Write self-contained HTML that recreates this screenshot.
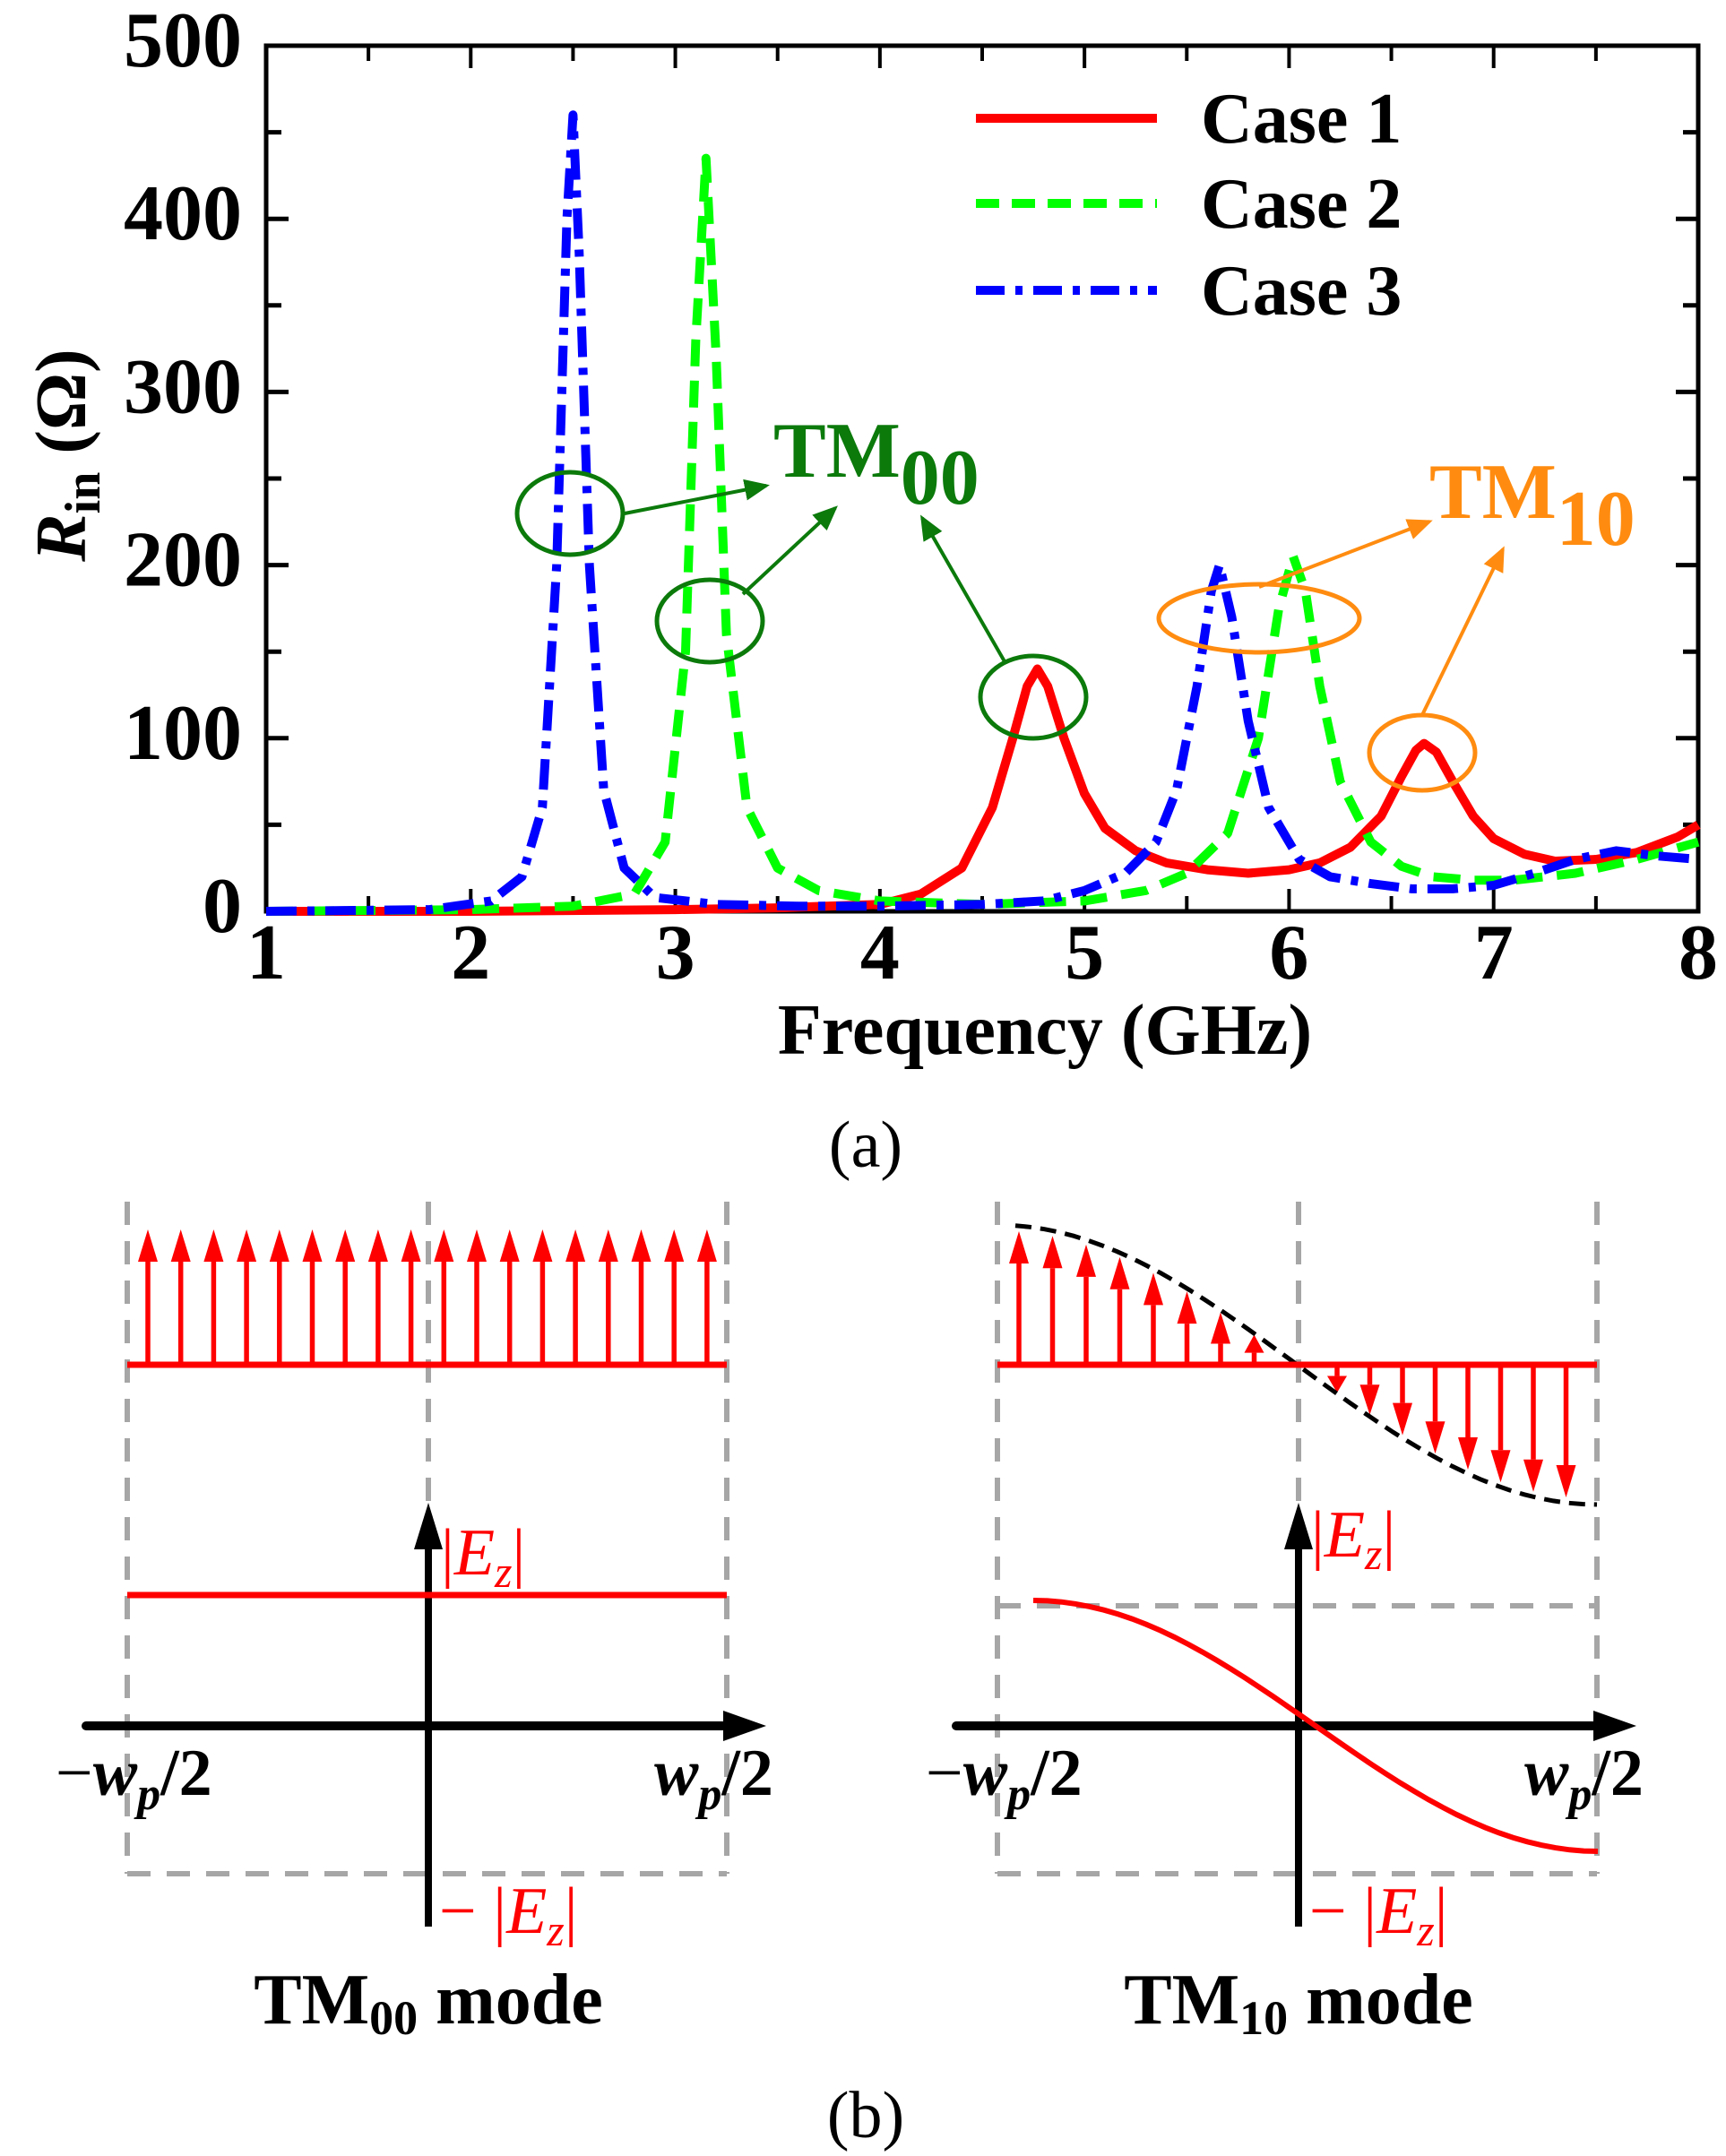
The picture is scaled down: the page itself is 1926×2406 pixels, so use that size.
<!DOCTYPE html>
<html><head><meta charset="utf-8"><style>
html,body{margin:0;padding:0;background:#fff}
svg{display:block}
text{font-family:"Liberation Serif",serif;font-weight:bold}
</style></head><body>
<svg id="fig" width="1926" height="2406" viewBox="0 0 1926 2406" xmlns="http://www.w3.org/2000/svg">
<defs>
<marker id="ag" markerWidth="8" markerHeight="8" refX="6" refY="4" orient="auto" markerUnits="strokeWidth"><path d="M0,1 L7,4 L0,7 z" fill="#0b7a0b"/></marker>
<marker id="ao" markerWidth="8" markerHeight="8" refX="6" refY="4" orient="auto" markerUnits="strokeWidth"><path d="M0,1 L7,4 L0,7 z" fill="#ff8c10"/></marker>
</defs>
<g id="chart"></g>
<g id="partb"></g>
</svg>
<script>
const freqs1 = [1,2,3,3.5,4,4.2,4.4,4.55,4.65,4.72,4.77,4.82,4.9,5.0,5.1,5.25,5.4,5.6,5.8,6.0,6.15,6.3,6.45,6.55,6.62,6.66,6.72,6.8,6.9,7.0,7.15,7.3,7.5,7.7,7.9,8];
const case1 = [0,0,1,2,4,10,25,60,100,130,140,130,100,68,48,35,28,24,22,24,28,37,55,78,93,97,92,75,55,42,33,29,30,34,43,50];
const freqs2 = [1,2,2.5,2.8,2.95,3.05,3.1,3.15,3.2,3.25,3.35,3.5,3.7,4.0,4.5,5.0,5.3,5.5,5.7,5.85,5.95,6.02,6.08,6.15,6.25,6.4,6.55,6.7,6.9,7.1,7.4,7.7,8];
const case2 = [0,1,3,10,40,150,330,435,320,160,60,25,12,6,4,6,12,22,45,100,175,205,185,130,75,40,26,20,18,18,22,30,40];
const freqs3 = [1,1.8,2.1,2.25,2.35,2.42,2.47,2.5,2.53,2.58,2.65,2.75,2.9,3.2,3.6,4.0,4.5,4.8,5.0,5.2,5.35,5.45,5.55,5.62,5.66,5.72,5.8,5.9,6.05,6.2,6.4,6.6,6.8,7.0,7.2,7.4,7.6,7.8,8];
const case3 = [0,1,6,20,60,200,400,460,380,200,70,25,8,4,3,3,4,6,12,22,40,70,130,185,200,170,110,60,30,20,16,13,13,15,22,30,35,32,30];
const yTicks = [0,100,200,300,400,500];
const xTicks = [1,2,3,4,5,6,7,8];

const NS="http://www.w3.org/2000/svg";
const L=297,R=1895,T=51,B=1017;
const xs=f=>L+(f-1)/7*(R-L);
const ys=v=>B-v/500*(B-T);
function mk(tag,attrs,parent,txt){const e=document.createElementNS(NS,tag);for(const k in attrs)e.setAttribute(k,attrs[k]);if(txt!==undefined)e.textContent=txt;parent.appendChild(e);return e;}
const C=document.getElementById('chart');

let box=mk('rect',{x:L,y:T,width:R-L,height:B-T,fill:'none',stroke:'#000','stroke-width':5},C);


for(let v=0;v<=500;v+=50){const maj=v%100===0;const len=maj?25:17;
 mk('line',{x1:L,x2:L+len,y1:ys(v),y2:ys(v),stroke:'#000','stroke-width':5},C);
 mk('line',{x1:R,x2:R-len,y1:ys(v),y2:ys(v),stroke:'#000','stroke-width':5},C);}
for(let f=1;f<=8;f+=0.5){const maj=Number.isInteger(f);const len=maj?25:17;
 mk('line',{x1:xs(f),x2:xs(f),y1:B,y2:B-len,stroke:'#000','stroke-width':4},C);
 mk('line',{x1:xs(f),x2:xs(f),y1:T,y2:T+len,stroke:'#000','stroke-width':4},C);}
yTicks.forEach(v=>{const t=mk('text',{x:270,y:ys(v)+23,'font-size':88,'text-anchor':'end'},C,String(v));
 
 });
xTicks.forEach(f=>{const t=mk('text',{x:xs(f),y:1092,'font-size':88,'text-anchor':'middle'},C,String(f));
 
 });
let xt=mk('text',{x:1166,y:1176,'font-size':80,'text-anchor':'middle'},C,'Frequency (GHz)');


let yt=mk('text',{x:0,y:0,'font-size':80,'text-anchor':'middle',transform:'translate(95,508) rotate(-90)'},C);


mk('tspan',{'font-style':'italic'},yt,'R');mk('tspan',{'font-size':56,dy:16},yt,'in');mk('tspan',{dy:-16},yt,' (Ω)');
let la=mk('text',{x:966,y:1302,'font-size':74,'text-anchor':'middle',style:'font-weight:normal'},C,'(a)');



function series(fx,vals,color,dash,name){let d='';fx.forEach((f,i)=>{d+=(i?'L':'M')+xs(f).toFixed(1)+','+ys(vals[i]).toFixed(1);});
 const p=mk('path',{d:d,fill:'none',stroke:color,'stroke-width':10,'stroke-dasharray':dash,'stroke-linejoin':'round'},C);
 
 }
series(freqs1,case1,'#ff0000','none','series-case-1');
series(freqs2,case2,'#00ff00','30 16','series-case-2');
series(freqs3,case3,'#0000ff','34 12 8 12','series-case-3');

const leg=[['Case 1','#ff0000','none',159],['Case 2','#00ff00','26 14',254],['Case 3','#0000ff','32 12 8 12',351]];
leg.forEach(e=>{const g=mk('g',{},C);
 
 
 mk('line',{x1:1089,x2:1291,y1:e[3]-27,y2:e[3]-27,stroke:e[1],'stroke-width':10,'stroke-dasharray':e[2]},g);
 mk('text',{x:1340,y:e[3],'font-size':80},g,e[0]);});

const ann=mk('g',{},C);


[[636,573,59,46],[792,693,59,46],[1153,778,59,46]].forEach(c=>mk('ellipse',{cx:c[0],cy:c[1],rx:c[2],ry:c[3],fill:'none',stroke:'#0b7a0b','stroke-width':5},ann));
[[697,573,855,542],[829,663,932,567],[1122,740,1029,578]].forEach(a=>mk('line',{x1:a[0],y1:a[1],x2:a[2],y2:a[3],stroke:'#0b7a0b','stroke-width':4,'marker-end':'url(#ag)'},ann));
[[1405,690,112,38],[1587,840,59,42]].forEach(c=>mk('ellipse',{cx:c[0],cy:c[1],rx:c[2],ry:c[3],fill:'none',stroke:'#ff8c10','stroke-width':5},ann));
[[1405,655,1595,582],[1587,798,1677,613]].forEach(a=>mk('line',{x1:a[0],y1:a[1],x2:a[2],y2:a[3],stroke:'#ff8c10','stroke-width':4,'marker-end':'url(#ao)'},ann));
let t0=mk('text',{x:863,y:532,'font-size':88,fill:'#0b7a0b'},ann);mk('tspan',{},t0,'TM');mk('tspan',{dy:30},t0,'00');
let t1=mk('text',{x:1595,y:578,'font-size':88,fill:'#ff8c10'},ann);mk('tspan',{},t1,'TM');mk('tspan',{dy:30},t1,'10');

const P=document.getElementById('partb');
const grey={stroke:'#a6a6a6','stroke-width':6,'stroke-dasharray':'26 18',fill:'none'};
function arrowV(g,x,y0,y1,col,w,hw,hl){const dir=y1<y0?-1:1;
 mk('line',{x1:x,y1:y0,x2:x,y2:y1-dir*hl,stroke:col,'stroke-width':w},g);
 mk('path',{d:`M${x-hw},${y1-dir*hl} L${x+hw},${y1-dir*hl} L${x},${y1} z`,fill:col},g);}
function arrowH(g,x0,x1,y,col,w,hw,hl){mk('line',{x1:x0,y1:y,x2:x1-hl,y2:y,stroke:col,'stroke-width':w,'stroke-linecap':'round'},g);
 mk('path',{d:`M${x1-hl},${y-hw} L${x1-hl},${y+hw} L${x1},${y} z`,fill:col},g);}
function panel(off,mode){const g=mk('g',{},P);
 
 
 const xl=142+off,xc=478+off,xr=811+off,yb=1523;
 [xl,xc,xr].forEach(x=>mk('line',Object.assign({x1:x,x2:x,y1:1341,y2:2091},grey),g));
 mk('line',Object.assign({x1:xl,x2:xr,y1:2091,y2:2091},grey),g);
 if(mode==='10')mk('line',Object.assign({x1:xl,x2:xr,y1:1792,y2:1792},grey),g);
 if(mode==='00'){for(let i=0;i<18;i++){const x=165+i*36.7+off;arrowV(g,x,yb,1372,'#ff0000',5.5,11,36);}}
 else{const A=150,W=xr-xl;
  for(let i=0;i<8;i++){const x=1137+i*37.5;const h=A*Math.cos(Math.PI*(x-xl)/W);arrowV(g,x,yb,yb-h,'#ff0000',5.5,11,Math.min(36,h*0.6));}
  for(let i=0;i<8;i++){const x=1492+i*36.5;const h=-A*Math.cos(Math.PI*(x-xl)/W);arrowV(g,x,yb,yb+h,'#ff0000',5.5,11,Math.min(36,h*0.6));}
  let d='';for(let k=0;k<=40;k++){const x=xl+20+k*(W-20)/40;d+=(k?'L':'M')+x.toFixed(1)+','+(yb-(A+6)*Math.cos(Math.PI*(x-xl)/W)).toFixed(1);}
  mk('path',{d:d,fill:'none',stroke:'#000','stroke-width':5,'stroke-dasharray':'18 10'},g);}
 mk('line',{x1:xl,x2:xr,y1:yb,y2:yb,stroke:'#ff0000','stroke-width':7},g);
 arrowH(g,96+off,855+off,1926,'#000',10,17,48);
 arrowV(g,xc,2150,1677,'#000',8,16,52);
 if(mode==='00')mk('line',{x1:xl,x2:xr,y1:1780,y2:1780,stroke:'#ff0000','stroke-width':7},g);
 else{let d='';for(let k=0;k<=40;k++){const x=1153+k*(1783-1153)/40;const ph=Math.PI*(x-1153)/(1783-1153);d+=(k?'L':'M')+x.toFixed(1)+','+(1926-140*Math.cos(ph)).toFixed(1);}
  mk('path',{d:d,fill:'none',stroke:'#ff0000','stroke-width':6},g);}
 let a=mk('text',{x:62+off,y:2003,'font-size':74},g);mk('tspan',{'font-weight':'normal'},a,'−');mk('tspan',{'font-style':'italic'},a,'w');mk('tspan',{'font-style':'italic','font-size':52,dy:16},a,'p');mk('tspan',{dy:-16},a,'/2');
 let b=mk('text',{x:730+off,y:2003,'font-size':74},g);mk('tspan',{'font-style':'italic'},b,'w');mk('tspan',{'font-style':'italic','font-size':52,dy:16},b,'p');mk('tspan',{dy:-16},b,'/2');
 let c=mk('text',{x:492+off,y:(mode==='00'?1757:1737),'font-size':74,fill:'#ff0000',style:'font-weight:normal'},g);mk('tspan',{},c,'|');mk('tspan',{'font-style':'italic'},c,'E');mk('tspan',{'font-style':'italic','font-size':50,dy:14},c,'z');mk('tspan',{dy:-14},c,'|');
 let e=mk('text',{x:490+off,y:2157,'font-size':74,fill:'#ff0000',style:'font-weight:normal'},g);mk('tspan',{},e,'− |');mk('tspan',{'font-style':'italic'},e,'E');mk('tspan',{'font-style':'italic','font-size':50,dy:14},e,'z');mk('tspan',{dy:-14},e,'|');
 let m=mk('text',{x:xc,y:2258,'font-size':80,'text-anchor':'middle'},g);mk('tspan',{},m,'TM');mk('tspan',{'font-size':54,dy:12},m,mode);mk('tspan',{dy:-12},m,' mode');
}
panel(0,'00');panel(971,'10');
let lb=mk('text',{x:966,y:2385,'font-size':74,'text-anchor':'middle',style:'font-weight:normal'},P,'(b)');


</script>
</body></html>
